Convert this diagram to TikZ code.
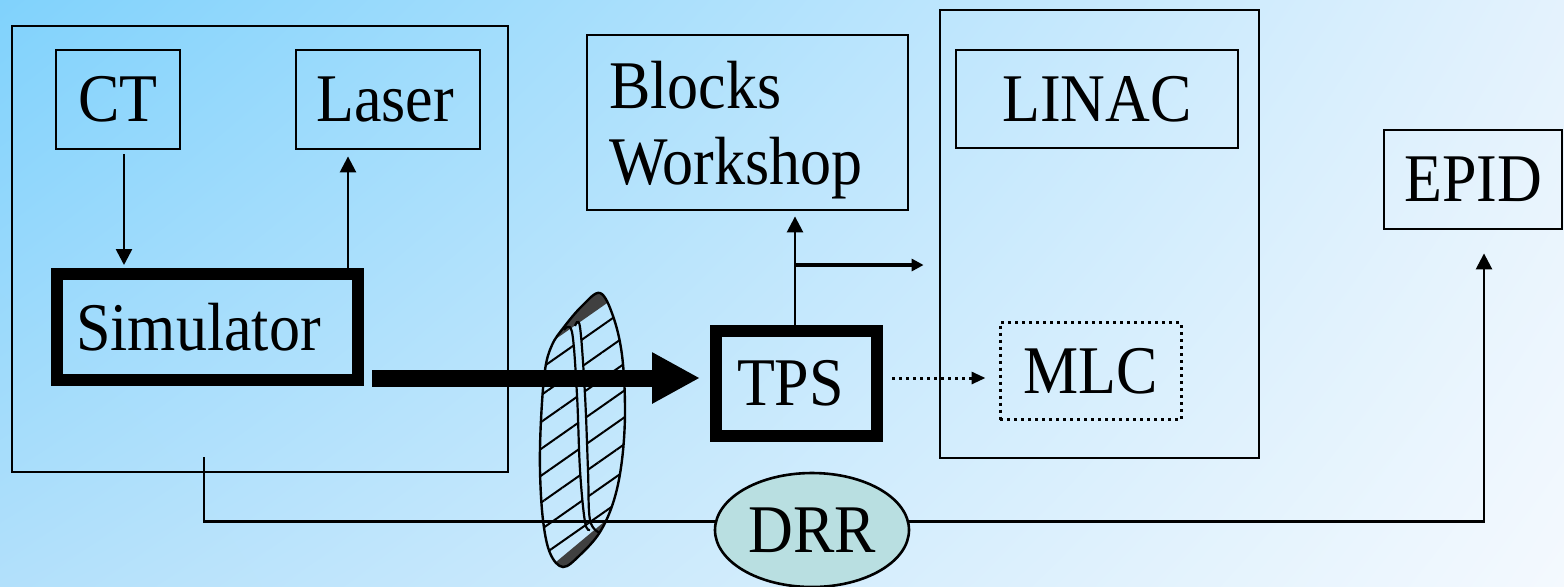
\documentclass[tikz,border=0pt]{standalone}
\usepackage{fontspec}
\setmainfont{Liberation Serif}
\newfontfamily\labelfont{Liberation Serif}
\usetikzlibrary{arrows.meta,calc,shapes.geometric,patterns.meta,shadings}
\newcommand\lbl[1]{\scalebox{1}[1.1]{#1}}
\definecolor{bgA}{HTML}{80D2FC}
\definecolor{bgB}{HTML}{E4F2FD}
\definecolor{bgC}{HTML}{B2E0FB}
\definecolor{bgD}{HTML}{F4F9FE}
\definecolor{drrfill}{HTML}{B9DFE1}
\begin{document}
\begin{tikzpicture}[x=0.5pt,y=-0.5pt,
  every node/.style={font=\labelfont\fontsize{31}{38}\selectfont, inner sep=0pt},
  box/.style 2 args={draw, line width=1.4pt, minimum width=#1*0.5pt, minimum height=#2*0.5pt},
  thickbox/.style 2 args={draw, line width=6pt, minimum width=#1*0.5pt, minimum height=#2*0.5pt},
  dotbox/.style 2 args={draw, dotted, line width=1.5pt, minimum width=#1*0.5pt, minimum height=#2*0.5pt},
  arr/.style={line width=1.3pt, -{Triangle[length=8pt,width=8pt]}},
  conn/.style={line width=1.3pt}]

% background
\useasboundingbox (0,0) rectangle (1564,586);
\shade[upper left=bgA, upper right=bgB, lower left=bgC, lower right=bgD] (0,0) rectangle (1564,586);

% simulation room
\node[box={496}{446}] (room) at (260,249) {};
\node[box={124}{99}] (ct) at (118,99.5) {\lbl{CT}};
\node[box={184}{99}] (laser) at (388,99.5) {\lbl{Laser}\hspace*{3pt}};
\node[thickbox={301}{106}] (sim) at (207.5,327) {\lbl{Simulator}\hspace*{9pt}};

% planning
\node[box={321}{175}] (blocks) at (747.5,122.5) {};
\node[anchor=north west, align=left] (blockstxt) at (609,61) {\lbl{Blocks}\\\lbl{Workshop}};
\node[thickbox={161}{105}] (tps) at (796.5,383.5) {\lbl{TPS}\hspace*{6pt}};

% treatment
\node[box={319}{448}] (linacroom) at (1099.5,234) {};
\node[box={282}{98}] (linac) at (1097,99) {\lbl{LINAC}};
\node[dotbox={181}{97}] (mlc) at (1090.5,371) {\lbl{MLC}};
\node[box={178}{99}] (epid) at (1473,179.5) {\lbl{EPID}};
\node[ellipse, draw, line width=1.3pt, fill=drrfill, minimum width=97pt, minimum height=57pt] (drr) at (812,530) {\lbl{DRR}};

% hatched lens between the rooms
\begin{scope}
  \clip plot[smooth cycle, tension=0.6] coordinates {(600,293) (613,316) (622,355) (625,410) (622,460) (614,500) (600,532) (580,555) (563,567) (550,553) (543,520) (540,470) (541,420) (545,370) (552,345) (564,327) (582,306)};
  \fill[pattern={Lines[angle=35,distance=11pt,line width=1pt]}, even odd rule]
    (520,280) rectangle (640,590)
    plot[smooth, tension=0.6] coordinates {(572,330) (577,395) (580,470) (585,522)}
    -- plot[smooth, tension=0.6] coordinates {(590,520) (588,470) (585,395) (580,327)} -- cycle;
  % densely hatched rims
  \fill[black!75] (520,364) -- (640,280) -- (640,250) -- (520,250) -- cycle;
  \fill[black!75] (520,592) -- (640,492) -- (640,600) -- (520,600) -- cycle;
\end{scope}
\draw[line width=1.2pt] plot[smooth cycle, tension=0.6] coordinates {(600,293) (613,316) (622,355) (625,410) (622,460) (614,500) (600,532) (580,555) (563,567) (550,553) (543,520) (540,470) (541,420) (545,370) (552,345) (564,327) (582,306)};
\draw[line width=1.1pt] plot[smooth, tension=0.6] coordinates {(564,330) (572,332) (577,395) (580,470) (585,522) (590,530)};
\draw[line width=1.1pt] plot[smooth, tension=0.6] coordinates {(575,326) (580,327) (585,395) (588,470) (590,520) (600,533)};

% connectors
\draw[arr] ($(ct.south)+(6,4)$) -- ($(ct.south |- sim.north)+(6,-3)$);
\draw[arr] ($(sim.north)+(140.5,0)$) -- ($(sim.north |- laser.south)+(140.5,6)$);
\coordinate (bigstart) at ($(sim.south east)+(8,-8)$);
\draw[line width=8.5pt, -{Triangle[length=24pt,width=24pt]}, shorten >=5pt]
  (bigstart) -- (bigstart -| tps.west);
\draw[arr, shorten >=2.5pt] ($(tps.north)+(-1.5,0)$) -- ($(tps.north |- blocks.south)+(-1.5,0)$);
\coordinate (branch) at ($(tps.north)+(-1.5,-60)$);
\draw[line width=2pt, -{Triangle[length=6pt,width=6pt]}, shorten >=7.5pt]
  (branch) -- (branch -| linacroom.west);
\coordinate (dotstart) at ($(tps.east)+(9,-5.5)$);
\draw[line width=1.5pt, dotted, -{Triangle[length=7pt,width=6pt]}, shorten >=6.5pt]
  (dotstart) -- (dotstart -| mlc.west);
\coordinate (simtap) at (204,457);
\draw[conn] (simtap) |- (drr.175);
\coordinate (epidin) at ($(epid.south)+(11,0)$);
\draw[arr, shorten >=11.5pt] (drr.5) -| (epidin);
\end{tikzpicture}
\end{document}
